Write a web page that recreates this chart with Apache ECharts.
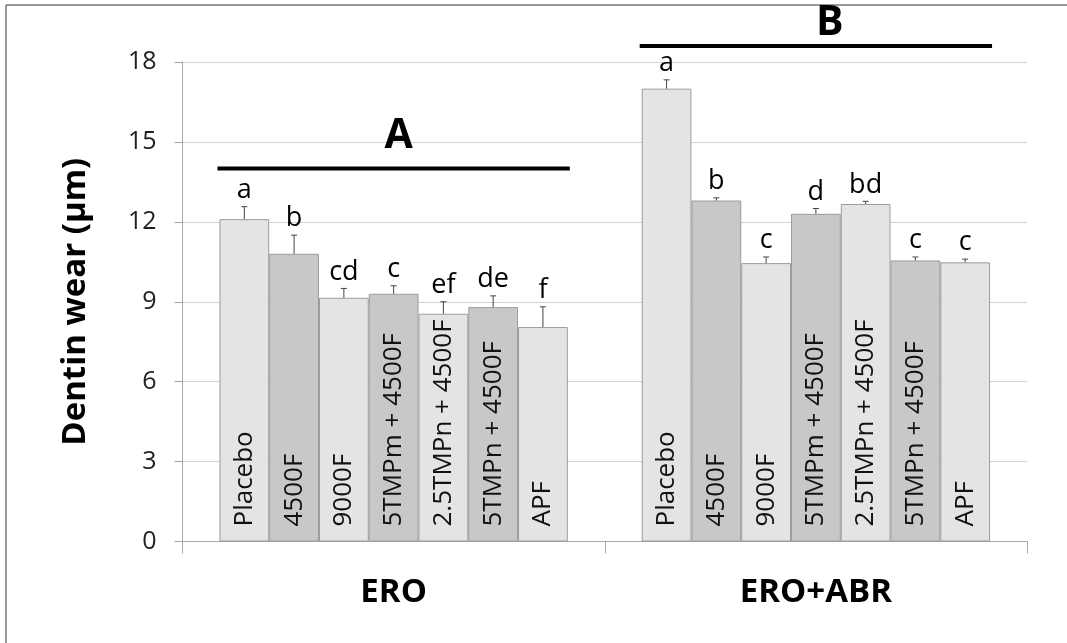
<!DOCTYPE html>
<html>
<head>
<meta charset="utf-8">
<script src="https://cdn.jsdelivr.net/npm/echarts@6/dist/echarts.min.js"></script>
<style>
html,body{margin:0;padding:0;background:#fff;overflow:hidden;}
#chart{width:1067px;height:643px;}
</style>
</head>
<body>
<div id="chart"></div>
<script>
// ---- data ----
const categories = ['ERO', 'ERO+ABR'];
const treatments = ['Placebo', '4500F', '9000F', '5TMPm + 4500F', '2.5TMPn + 4500F', '5TMPn + 4500F', 'APF'];
const eroMeans = [12.1, 10.8, 9.15, 9.3, 8.55, 8.8, 8.05];
const eroErr = [0.47, 0.7, 0.35, 0.3, 0.45, 0.42, 0.76];
const eroLetters = ['a', 'b', 'cd', 'c', 'ef', 'de', 'f'];
const abrMeans = [17.0, 12.8, 10.45, 12.3, 12.67, 10.55, 10.48];
const abrErr = [0.33, 0.1, 0.23, 0.2, 0.1, 0.13, 0.12];
const abrLetters = ['a', 'b', 'c', 'd', 'bd', 'c', 'c'];
const groupLabels = ['A', 'B'];
const groupLevels = [14.0, 18.6];
const yTicks = [0, 3, 6, 9, 12, 15, 18];

// ---- styling ----
const FONT = '"Open Sans", sans-serif';
const CAT_GAP = 0.175;
const lightFill = '#e4e4e4';
const darkFill = '#c8c8c8';

const chart = echarts.init(document.getElementById('chart'), null, {renderer: 'canvas'});

const barSeries = treatments.map((name, i) => ({
  name: name,
  type: 'bar',
  data: [eroMeans[i], abrMeans[i]],
  barGap: '0%',
  barCategoryGap: (CAT_GAP * 100) + '%',
  itemStyle: {
    color: i % 2 === 0 ? lightFill : darkFill,
    borderColor: '#9c9c9c',
    borderWidth: 1
  },
  label: {
    show: true,
    formatter: name,
    position: 'insideBottom',
    rotate: 90,
    align: 'left',
    verticalAlign: 'middle',
    distance: 15,
    fontFamily: FONT,
    fontSize: 26,
    color: '#111'
  },
  z: 2
}));

const errData = [];
treatments.forEach((t, i) => {
  errData.push([0, i, eroMeans[i], eroErr[i], eroLetters[i]]);
  errData.push([1, i, abrMeans[i], abrErr[i], abrLetters[i]]);
});

const errSeries = {
  type: 'custom',
  data: errData,
  encode: {x: 0, y: 2},
  z: 5,
  silent: true,
  renderItem: function (params, api) {
    const cat = api.value(0), idx = api.value(1), mean = api.value(2), err = api.value(3);
    const letter = errData[params.dataIndex][4];
    const band = api.size([1, 0])[0];
    const bw = band * (1 - CAT_GAP) / treatments.length;
    const base = api.coord([cat, mean]);
    const x = base[0] + (idx - (treatments.length - 1) / 2) * bw;
    const top = api.coord([cat, mean + err])[1];
    return {
      type: 'group',
      children: [
        {type: 'line', shape: {x1: x, y1: base[1], x2: x, y2: top}, style: {stroke: '#444', lineWidth: 1}},
        {type: 'line', shape: {x1: x - 3, y1: top, x2: x + 3, y2: top}, style: {stroke: '#444', lineWidth: 1}},
        {type: 'text', x: x, y: top - 3, style: {text: letter, fontFamily: FONT, fontSize: 27, fill: '#000', align: 'center', verticalAlign: 'bottom'}}
      ]
    };
  }
};

const groupTextGap = [32, 23];
const groupSeries = {
  type: 'custom',
  data: groupLabels.map((g, i) => [i, groupLevels[i]]),
  encode: {x: 0, y: 1},
  z: 6,
  silent: true,
  clip: false,
  renderItem: function (params, api) {
    const cat = api.value(0), lvl = api.value(1);
    const band = api.size([1, 0])[0];
    const half = band * (1 - CAT_GAP) / 2 + 2;
    const c = api.coord([cat, lvl]);
    return {
      type: 'group',
      children: [
        {type: 'line', shape: {x1: c[0] - half, y1: c[1], x2: c[0] + half, y2: c[1]}, style: {stroke: '#000', lineWidth: 4}},
        {type: 'text', x: c[0] + 5 + cat * 9, y: c[1] - groupTextGap[cat], style: {text: groupLabels[params.dataIndex], fontFamily: FONT, fontWeight: 'bold', fontSize: 41, fill: '#000', align: 'center', verticalAlign: 'middle'}}
      ]
    };
  }
};

const option = {
  animation: false,
  backgroundColor: '#fff',
  grid: {left: 182.5, right: 40, top: 62, bottom: 101.5, containLabel: false},
  xAxis: {
    type: 'category',
    data: categories,
    axisLine: {show: true, lineStyle: {color: '#a8a8a8', width: 1}},
    axisTick: {show: true, length: 12, lineStyle: {color: '#a8a8a8'}},
    axisLabel: {fontFamily: FONT, fontWeight: 'bold', fontSize: 33, color: '#000', margin: 35},
    splitLine: {show: false}
  },
  yAxis: {
    type: 'value',
    min: yTicks[0],
    max: yTicks[yTicks.length - 1],
    interval: 3,
    name: 'Dentin wear (µm)',
    nameLocation: 'middle',
    nameRotate: 90,
    nameGap: 90,
    nameTextStyle: {fontFamily: FONT, fontWeight: 'bold', fontSize: 33, color: '#000'},
    axisLine: {show: true, lineStyle: {color: '#a8a8a8', width: 1}},
    axisTick: {show: true, length: 8, lineStyle: {color: '#a8a8a8'}},
    axisLabel: {fontFamily: FONT, fontSize: 25, color: '#222', margin: 26},
    splitLine: {show: true, lineStyle: {color: '#d2d2d2', width: 1}}
  },
  series: barSeries.concat([errSeries, groupSeries]),
  graphic: [
    {type: 'line', silent: true, shape: {x1: 6, y1: 5, x2: 6, y2: 643}, style: {stroke: '#777', lineWidth: 1.5}},
    {type: 'line', silent: true, shape: {x1: 6, y1: 5, x2: 1067, y2: 5}, style: {stroke: '#777', lineWidth: 1.5}}
  ]
};

chart.setOption(option);
</script>
</body>
</html>
